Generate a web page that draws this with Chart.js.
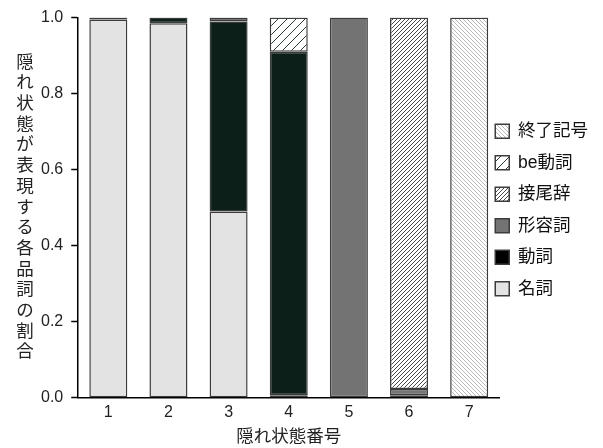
<!DOCTYPE html>
<html lang="ja">
  <head>
    <meta charset="UTF-8" />
    <script src="https://cdn.jsdelivr.net/npm/chart.js@4"></script>
    <style>
      body { margin: 0; background: #fff; }
      #wrap { width: 603px; height: 448px; }
    </style>
  </head>
  <body>
    <div id="wrap"><canvas id="Chart-pos"></canvas></div>
    <script>

// 隠れ状態番号
var states = ["1", "2", "3", "4", "5", "6", "7"];

// 各品詞の割合
var noun   = [0.995, 0.985, 0.49, 0.007, null, null, null];   // 名詞
var verb   = [0.005, 0.015, 0.50, 0.903, null, 0.007, null];  // 動詞
var adj    = [null, null, 0.01, null, 1.0, 0.016, null];      // 形容詞
var suffix = [null, null, null, null, null, 0.977, null];     // 接尾辞
var beVerb = [null, null, null, 0.09, null, null, null];      // be動詞
var eos    = [null, null, null, null, null, null, 1.0];       // 終了記号

var yTicks = [0, 0.2, 0.4, 0.6, 0.8, 1.0];
var yTitle = "隠れ状態が表現する各品詞の割合";
var xTitle = "隠れ状態番号";

var JP = '"Liberation Sans", "Noto Sans CJK JP", sans-serif';

// 斜線パターン
function hatch(dir, step, color, width, bg) {
  var c = document.createElement("canvas");
  c.width = step; c.height = step;
  var g = c.getContext("2d");
  g.fillStyle = bg;
  g.fillRect(0, 0, step, step);
  g.strokeStyle = color;
  g.lineWidth = width;
  g.beginPath();
  if (dir == "/") {
    g.moveTo(-1, step + 1); g.lineTo(step + 1, -1);
    g.moveTo(-1, 1); g.lineTo(1, -1);
    g.moveTo(step - 1, step + 1); g.lineTo(step + 1, step - 1);
  } else {
    g.moveTo(-1, -1); g.lineTo(step + 1, step + 1);
    g.moveTo(step - 1, -1); g.lineTo(step + 1, 1);
    g.moveTo(-1, step - 1); g.lineTo(1, step + 1);
  }
  g.stroke();
  return g.createPattern(c, "repeat");
}

var fills = {
  noun: "#e3e3e3",
  verb: "#0c1f18",
  adj: "#737373",
  suffix: hatch("/", 4, "#4a4a4a", 1, "#ffffff"),
  be: hatch("/", 9, "#2a3a34", 1, "#ffffff"),
  eos: hatch("\\", 4, "#b8b8b8", 1, "#ffffff")
};
// 凡例の色 (動詞だけ黒)
var legendFills = [fills.noun, "#000000", fills.adj, fills.suffix, fills.be, fills.eos];

function ds(label, data, bg) {
  return {
    label: label,
    data: data,
    backgroundColor: bg,
    borderColor: "#3c3c3c",
    borderWidth: 1.5,
    borderSkipped: false,
    categoryPercentage: 1.0,
    barPercentage: 0.632
  };
}

// 縦書きの y 軸タイトル
var verticalTitle = {
  id: "verticalTitle",
  afterDraw: function(chart) {
    var ctx = chart.ctx;
    var area = chart.chartArea;
    var pitch = 20.7;
    var cy = (area.top + area.bottom) / 2;
    var y0 = cy - pitch * (yTitle.length - 1) / 2;
    ctx.save();
    ctx.font = "17.5px " + JP;
    ctx.fillStyle = "#222";
    ctx.textAlign = "center";
    ctx.textBaseline = "middle";
    for (var i = 0; i < yTitle.length; i++) {
      ctx.fillText(yTitle[i], 25, y0 + i * pitch);
    }
    ctx.restore();
  }
};

// 凡例をグラフ側に寄せる
var legendShift = {
  id: "legendShift",
  afterLayout: function(chart) {
    var lg = chart.legend;
    lg.left -= 18; lg.right -= 18;
    lg.top -= 22; lg.bottom -= 22;
  }
};

var ctx = document.getElementById("Chart-pos").getContext("2d");
var chart = new Chart(ctx, {
  type: "bar",
  data: {
    labels: states,
    datasets: [
      ds("名詞", noun, fills.noun),
      ds("動詞", verb, fills.verb),
      ds("形容詞", adj, fills.adj),
      ds("接尾辞", suffix, fills.suffix),
      ds("be動詞", beVerb, fills.be),
      ds("終了記号", eos, fills.eos)
    ]
  },
  options: {
    animation: false,
    responsive: true,
    maintainAspectRatio: false,
    layout: {
      padding: { left: 33, top: 16, right: -13, bottom: 0 }
    },
    plugins: {
      tooltip: { enabled: false },
      legend: {
        position: "right",
        reverse: true,
        labels: {
          color: "#111",
          font: { family: JP, size: 17.5 },
          boxWidth: 14,
          boxHeight: 14,
          padding: 14,
          generateLabels: function(chart) {
            var items = Chart.defaults.plugins.legend.labels.generateLabels(chart);
            items.forEach(function(it) {
              it.fillStyle = legendFills[it.datasetIndex];
            });
            return items;
          }
        }
      }
    },
    scales: {
      x: {
        stacked: true,
        grid: { display: false, drawTicks: false },
        border: { color: "#000", width: 1.5 },
        ticks: { color: "#222", font: { family: JP, size: 16 }, padding: 5 },
        title: {
          display: true,
          text: xTitle,
          color: "#222",
          font: { family: JP, size: 17.5 },
          padding: { top: 0, bottom: 0 }
        }
      },
      y: {
        stacked: true,
        min: 0,
        max: 1.0,
        afterBuildTicks: function(axis) {
          axis.ticks = yTicks.map(function(v) { return { value: v }; });
        },
        grid: { drawOnChartArea: false, tickLength: 7, color: "#000", tickWidth: 1.5 },
        border: { color: "#000", width: 1.5 },
        ticks: {
          color: "#222",
          font: { family: JP, size: 16 },
          padding: 8,
          callback: function(value) { return value.toFixed(1); }
        }
      }
    }
  },
  plugins: [verticalTitle, legendShift]
});

    </script>
  </body>
</html>
